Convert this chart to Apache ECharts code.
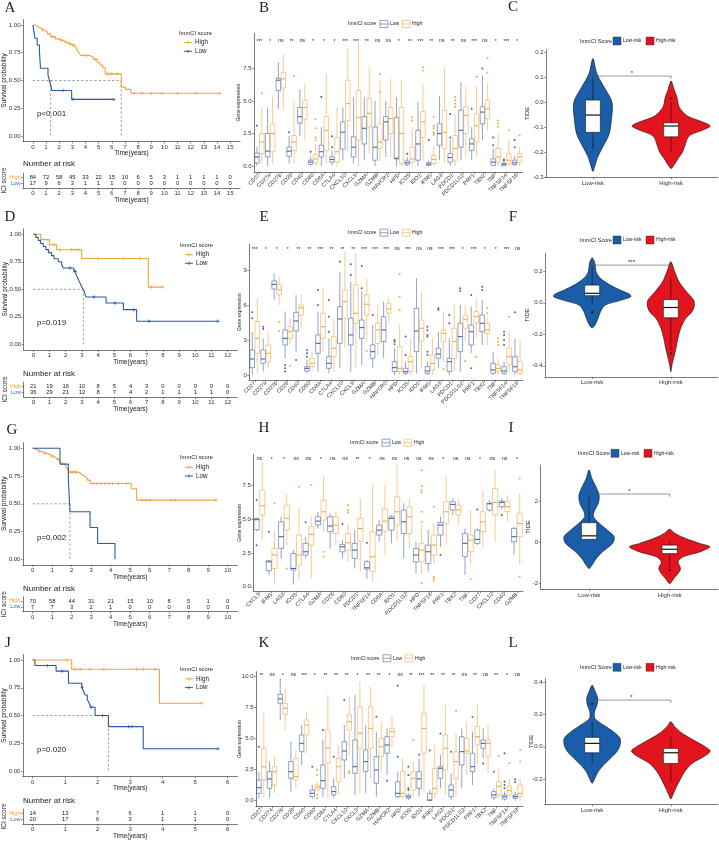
<!DOCTYPE html>
<html>
<head>
<meta charset="utf-8">
<script src="https://cdn.jsdelivr.net/npm/echarts@6.0.0/dist/echarts.min.js"></script>
<style>
html,body{margin:0;padding:0;background:#fff;}
#chart{width:719px;height:841px;}
</style>
</head>
<body>
<div id="chart"></div>
<script>
// ======================= DATA =======================
// ---------- Kaplan-Meier panels ----------
const SURV_TICKS = [0, 0.25, 0.5, 0.75, 1];

// Panel A
const A_time = [0,1,2,3,4,5,6,7,8,9,10,11,12,13,14,15];
const A_riskHigh = [84,72,58,45,33,22,15,10,6,5,3,1,1,1,1,0];
const A_riskLow  = [17,9,6,3,1,1,1,0,0,0,0,0,0,0,0,0];
const A_highT = [0,0.2,0.4,0.6,0.85,1.1,1.35,1.7,2.0,2.3,2.6,2.9,3.2,3.35,3.5,3.65,4.3,4.6,4.9,5.1,5.3,5.5,6.72,7.05,7.45,14.2];
const A_highS = [1.0,0.985,0.97,0.955,0.94,0.92,0.895,0.875,0.86,0.845,0.83,0.815,0.80,0.775,0.75,0.725,0.71,0.69,0.665,0.64,0.615,0.56,0.44,0.42,0.385,0.385];
const A_highCens = [0.75,1.5,2.2,2.5,2.8,3.1,3.9,4.1,4.75,5.7,6.0,6.4,7.7,8.3,9.0,9.8,11.0,12.4,14.2];
const A_lowT = [0,0.08,0.15,0.33,0.5,0.58,1.15,1.3,1.45,2.95,6.16];
const A_lowS = [1,0.94,0.88,0.82,0.76,0.61,0.55,0.48,0.41,0.33,0.33];
const A_lowCens = [2.3,3.05,6.16];
const A_median = [1.35, 6.72];
const A_p = 'p<0.001';

// Panel D
const D_time = [0,1,2,3,4,5,6,7,8,9,10,11,12];
const D_riskHigh = [21,19,16,10,8,5,4,3,0,0,0,0,0];
const D_riskLow  = [36,29,21,12,8,7,4,2,1,1,1,1,0];
const D_highT = [0,0.45,0.99,1.44,2.98,7.1,7.98];
const D_highS = [1,0.952,0.905,0.86,0.78,0.52,0.52];
const D_highCens = [1.28,1.65,2.37,2.57,2.78,4.0,5.56,6.58,7.3,7.98];
const D_lowT = [0,0.16,0.3,0.45,0.62,0.78,0.93,1.13,1.28,1.54,1.75,1.85,2.5,2.63,2.74,2.82,2.92,3.02,3.13,3.25,4.49,5.56,6.38,11.4];
const D_lowS = [1,0.972,0.944,0.917,0.889,0.861,0.833,0.806,0.778,0.75,0.722,0.694,0.665,0.635,0.605,0.575,0.545,0.515,0.485,0.43,0.375,0.315,0.21,0.21];
const D_lowCens = [2.26,2.57,3.74,5.04,6.2,7.14,11.4];
const D_median = [3.09];
const D_p = 'p=0.019';

// Panel G
const G_time = [0,1,2,3,4,5,6,7,8,9,10];
const G_riskHigh = [70,58,44,31,21,15,10,8,5,1,0];
const G_riskLow  = [7,7,3,2,1,0,0,0,0,0,0];
const G_highT = [0,0.1,0.25,0.45,0.7,0.9,1.05,1.2,1.35,1.45,1.55,1.65,1.75,1.85,2.35,2.5,2.65,2.8,2.95,5.05,5.33,9.4];
const G_highS = [1,0.986,0.971,0.957,0.943,0.929,0.914,0.9,0.886,0.871,0.855,0.838,0.82,0.785,0.768,0.75,0.732,0.713,0.683,0.635,0.533,0.533];
const G_highCens = [0.35,0.6,1.0,1.3,1.95,2.05,2.2,3.1,3.3,3.5,3.7,3.9,4.1,4.4,4.8,5.6,5.8,6.0,7.1,7.3,9.4];
const G_lowT = [0,1.4,1.83,1.91,2.94,3.33,4.22];
const G_lowS = [1,0.857,0.714,0.429,0.286,0.143,0];
const G_lowCens = [];
const G_median = [1.91];
const G_p = 'p=0.002';

// Panel J
const J_time = [0,1,2,3,4,5,6];
const J_riskHigh = [14,13,7,6,1,1,0];
const J_riskLow  = [20,17,6,3,1,1,0];
const J_highT = [0,1.2,3.9,5.2];
const J_highS = [1,0.917,0.611,0.611];
const J_highCens = [0.02,1.05,1.3,1.46,1.76,2.19,3.2,3.4,3.76,5.2];
const J_lowT = [0,0.07,0.72,1.1,1.51,1.56,1.61,1.68,1.74,1.78,1.92,2.33,3.4,5.7];
const J_lowS = [1,0.95,0.9,0.79,0.755,0.72,0.685,0.645,0.61,0.575,0.5,0.4,0.2,0.2];
const J_lowCens = [0.45,0.9,1.52,1.8,2.15,2.95,3.05,5.7];
const J_median = [2.33];
const J_p = 'p=0.020';

// ---------- Boxplot panels (values: [min, q1, median, q3, max]) ----------
const genes25 = ['CD27','CD274','CD276','CD28','CD40','CD80','CD8A','CTLA4','CXCL10','CXCL9','GZMA','GZMB','HAVCR2','HPD','ICOS','IDO1','IFNG','LAG3','PDCD1','PDCD1LG2','PRF1','TBX2','TNF','TNFSF14','TNFSF18'];
const genesH = ['CXCL9','IFNG','LAG3','ICOS','CTLA4','GZMA','CD28','CD80','PDCD1','TNFSF14','CD8A','IDO1','PDCD1LG2','HPD','TNFSF18','PRF1','TBX2','TNF','CD27','CXCL10','CD40','GZMB'];
const boxTicks25 = [0, 2.5, 5, 7.5];
const boxTicksE = [0, 3, 6, 9];
const boxTicksK = [0, 2.5, 5, 7.5, 10];

const B_sig = ['***','*','ns','**','ns','*','*','*','***','***','**','ns','ns','*','**','***','**','ns','**','ns','***','ns','*','***','*'];
const B_low = [[0,0.23,0.7,1.0,1.46],[0,0.7,1.15,2.5,4.5],[4.4,5.8,6.6,6.75,8.0],[0.2,0.75,1.15,1.45,2.3],[2.3,3.3,3.8,4.5,5.9],[0,0.13,0.3,0.45,0.7],[0,0.7,1.1,1.6,3.0],[0.05,0.3,0.5,0.7,1.2],[0.45,1.3,2.6,3.4,4.5],[0.2,0.7,1.45,2.25,5.3],[0.45,1.7,2.9,3.8,5.3],[0,0.45,1.45,3.0,5.0],[0.7,2.0,3.4,3.8,5.0],[0,0.55,0.6,3.75,5.3],[0,0.1,0.25,0.4,0.7],[0,0.45,1.7,2.75,4.9],[0,0.05,0.15,0.25,0.45],[0.45,1.6,2.5,3.25,5.4],[0,0.3,0.65,0.95,2.0],[0.45,1.45,2.75,4.3,6.45],[0.45,1.2,1.7,2.1,3.0],[2.0,3.25,4.15,4.55,6.95],[0,0.05,0.3,0.55,1.35],[0,0.02,0.15,0.2,0.3],[0,0.1,0.25,0.45,0.8]];
const B_high = [[0.2,0.95,1.85,2.5,4.5],[0.2,1.1,2.5,3.25,5.3],[4.3,6.0,6.7,7.2,8.6],[0.2,1.2,1.85,2.35,5.0],[2.0,3.6,4.5,5.05,6.3],[0,0.23,0.55,0.9,1.7],[0.2,1.2,2.75,3.8,7.1],[0,0.3,1.1,2.2,4.5],[1.1,3.5,4.8,6.6,9.0],[0,2.0,3.75,5.8,9.5],[0.95,3.0,4.05,5.2,7.6],[0.4,1.35,1.85,3.25,6.6],[0.7,2.5,3.65,4.5,6.7],[0,0.2,2.5,4.5,6.6],[0,0.3,0.55,1.45,3.0],[0.45,2.2,3.4,4.2,6.3],[0,0.2,0.5,0.8,1.45],[0.2,1.35,2.6,4.3,7.6],[0,0.45,1.35,2.35,4.0],[0.7,2.5,3.9,4.55,6.2],[0.7,1.85,3.1,4.0,6.1],[2.75,3.65,4.4,5.05,6.3],[0,0.3,0.7,1.35,2.5],[0,0.15,0.45,0.95,2.0],[0,0.3,0.7,0.95,1.45]];
const B_lowOut = [[0,3.1],[3,2.6],[5,1.1],[6,5.3],[7,2.3],[7,1.45],[14,0.95],[16,2.0],[18,4.0],[18,2.2],[20,4.4],[21,7.5],[22,2.2],[22,1.6],[23,0.5],[23,0.4],[24,2.0],[24,1.45]];
const B_highOut = [[0,5.6],[3,6.9],[5,3.6],[5,2.9],[5,2.2],[5,2.0],[11,7.05],[11,5.7],[14,3.75],[14,3.5],[15,7.6],[15,7.35],[16,3.8],[16,3.1],[16,2.9],[16,2.6],[16,2.5],[16,2.4],[18,5.3],[18,5.05],[18,4.8],[18,4.55],[20,6.85],[21,8.3],[21,7.2],[22,3.5],[22,3.25],[22,3.0],[23,2.75],[24,2.35]];

const E_sig = ['***','*','*','*','**','**','***','**','**','**','***','***','***','ns','***','ns','ns','***','***','*','***','*','*','***','ns'];
const E_low = [[0,0.63,1.37,2.14,3.7],[0.3,1.0,1.37,2.14,3.14],[6.43,7.37,7.77,8.05,8.7],[1.43,2.57,3.14,3.86,5.43],[2.0,3.77,4.63,5.37,6.86],[0.14,0.34,0.57,0.71,1.29],[0.29,1.86,2.71,3.43,5.43],[0.14,0.57,1.0,1.57,3.14],[0.57,2.71,4.8,5.86,8.86],[0.29,2.57,3.43,4.86,8.0],[0.86,3.14,4.06,4.71,7.14],[0.57,1.43,2.0,2.57,4.29],[1.43,2.86,3.86,5.0,6.29],[0,0.29,0.63,1.14,2.29],[0,0.14,0.29,0.57,1.14],[0.14,2.0,3.77,5.71,8.29],[0,0.14,0.34,0.71,1.14],[0.57,1.43,1.8,2.29,3.71],[0,0.29,1.14,1.43,3.14],[0.29,2.0,3.29,4.43,6.0],[1.86,2.57,3.71,4.29,5.86],[2.57,3.71,4.43,5.14,6.43],[0,0.14,0.43,1.0,2.0],[0,0.14,0.34,0.71,1.14],[0,0.29,0.71,1.57,3.14]];
const E_high = [[0.14,1.86,3.14,4.57,6.57],[0.57,1.14,1.86,2.57,3.7],[6.0,6.86,7.29,7.77,8.43],[2.57,3.14,3.71,4.14,4.86],[4.0,5.14,5.77,6.0,6.86],[0.29,0.71,1.0,1.43,2.0],[2.0,3.14,4.14,5.29,7.49],[0.29,1.57,2.29,3.29,4.86],[2.29,4.86,6.29,7.29,10.57],[0.57,4.43,5.29,7.71,10.43],[2.86,5.14,6.06,6.86,8.29],[1.71,2.71,3.86,4.43,6.0],[4.43,5.29,5.66,6.14,6.71],[0,0.29,0.57,2.43,4.29],[0,0.29,1.14,1.57,3.14],[0.57,2.9,4.0,4.7,7.14],[0,0.43,1.0,1.71,3.14],[1.14,2.86,3.57,3.86,5.43],[0.29,1.43,2.86,4.0,6.0],[2.86,4.0,4.77,5.14,6.0],[3.14,4.43,5.0,5.43,6.57],[2.57,3.57,3.86,4.43,5.0],[0,0.29,0.57,0.86,1.43],[0.14,0.86,1.57,2.29,3.71],[0,0.14,0.43,1.14,3.0]];
const E_lowOut = [[0,5.37],[0,4.86],[1,4.14],[1,3.94],[3,0.86],[3,0.57],[3,0.29],[4,1.29],[5,2.14],[5,1.86],[5,1.57],[6,7.29],[6,6.0],[7,6.43],[7,5.0],[7,3.71],[8,9.71],[9,9.49],[9,8.57],[10,9.34],[10,7.43],[11,5.14],[13,3.0],[13,2.86],[13,2.63],[14,3.29],[14,1.71],[16,4.14],[16,3.86],[16,3.43],[16,3.29],[16,2.0],[16,1.71],[17,5.71],[17,5.57],[18,5.14],[18,4.43],[19,7.43],[19,7.2],[20,6.86],[20,0.57],[21,7.57],[21,7.29],[23,3.71],[23,3.43],[23,3.0],[23,2.57],[24,5.37]];
const E_highOut = [[2,4.57],[2,3.77],[3,0.8],[10,2.06],[13,8.63],[13,6.71],[13,5.57],[17,0.51],[19,1.2],[20,1.57],[21,5.71],[21,5.29],[22,3.14],[22,2.86],[22,2.57],[23,5.0]];

const H_sig = ['ns','*','*','ns','ns','*','ns','ns','**','*','ns','ns','ns','ns','ns','*','ns','ns','*','ns','ns','*'];
const H_low = [[4.1,4.2,4.95,5.05,5.1],[0.86,1.18,1.84,1.92,1.95],[2.09,2.83,3.69,4.79,5.16],[0.17,1.23,1.35,2.46,2.7],[2.09,2.34,2.58,3.2,3.69],[4.3,4.55,4.84,5.16,5.53],[2.83,4.06,4.48,5.16,5.41],[2.09,2.58,2.95,3.12,3.44],[1.35,2.09,2.7,3.2,4.18],[0.61,1.3,1.4,1.84,1.97],[3.32,3.81,4.18,4.55,4.92],[3.2,4.18,5.04,5.16,5.29],[2.09,3.93,4.79,5.66,6.15],[0.98,1.84,2.34,2.83,3.32],[1.11,1.72,2.58,3.07,4.18],[2.95,3.81,4.55,4.75,5.16],[5.29,5.66,6.07,6.27,6.52],[0.86,2.21,3.2,3.93,4.3],[3.07,3.2,3.49,4.18,4.3],[5.53,5.66,6.12,6.15,6.39],[5.73,5.9,6.22,6.32,6.52],[2.34,3.32,3.69,4.3,4.43]];
const H_high = [[3.44,5.29,5.97,7.13,9.22],[0.25,1.35,2.34,2.83,4.18],[3.07,4.18,5.04,6.02,6.88],[0.61,1.6,2.34,3.81,5.78],[0.61,3.07,3.86,4.43,5.16],[4.06,4.92,5.53,6.39,8.11],[3.07,3.93,4.55,5.16,5.53],[1.84,2.7,3.25,3.93,4.67],[1.11,3.32,4.3,5.04,6.52],[0.37,1.11,2.21,4.06,7.5],[2.34,4.06,4.84,5.78,7.5],[3.32,4.55,5.53,6.64,9.1],[2.83,3.93,5.16,5.9,6.52],[0.98,1.84,2.7,3.2,4.55],[1.72,2.34,3.07,3.81,4.67],[3.2,4.67,5.53,6.27,8.11],[4.55,5.29,5.66,6.02,6.52],[1.6,2.58,3.44,3.81,5.66],[2.83,4.06,4.79,5.53,7.13],[3.32,5.29,6.22,7.25,8.6],[4.79,5.53,5.9,6.27,6.76],[1.6,3.69,4.67,5.41,6.88]];
const H_lowOut = [[0,6.4],[0,3.07],[1,4.06],[4,4.75],[7,4.62],[9,3.25],[15,2.34],[18,5.7],[20,5.29]];
const H_highOut = [[1,6.15],[2,1.35],[3,7.38],[4,7.5],[5,2.58],[5,2.21],[7,6.02],[7,5.66],[7,5.48],[13,8.6],[13,7.43],[13,7.13],[13,6.96],[13,5.53],[13,4.79],[13,0.25],[14,5.9],[14,0.74],[14,0.61],[14,0.44],[17,0.57],[21,7.99],[21,0.74]];

const K_sig = ['**','ns','*','ns','***','*','**','**','**','*','**','**','*','ns','**','***','**','**','**','ns','**','ns','**','*','ns'];
const K_low = [[0.19,0.59,1.05,1.67,2.34],[0.19,0.99,1.75,2.34,3.15],[6.5,7.85,8.2,8.58,9.87],[0.73,1.8,2.34,3.15,4.76],[2.88,3.95,4.62,5.3,6.1],[0.19,0.32,0.59,0.86,1.26],[0.32,0.99,1.61,2.88,4.89],[0.19,0.46,0.73,1.13,1.8],[1.8,3.28,4.0,4.76,6.1],[0.46,2.2,2.74,4.89,8.52],[0.59,2.34,3.15,4.09,6.1],[0.32,1.4,2.47,3.55,5.56],[2.07,3.82,4.49,5.16,5.83],[0.19,0.32,0.59,1.53,2.34],[0.05,0.19,0.32,0.46,0.59],[0.32,0.99,1.75,2.34,3.4],[0,0.02,0.05,0.59,0.86],[0.99,1.8,2.61,2.74,3.68],[0.05,0.32,0.86,1.26,2.2],[0.99,2.88,3.95,5.16,5.83],[1.26,2.34,2.74,3.82,5.56],[3.41,4.22,4.62,4.89,5.83],[0.05,0.24,0.46,0.73,0.99],[0,0.13,0.32,0.46,0.73],[0,0.19,0.32,0.46,0.73]];
const K_high = [[0.32,1.67,2.74,4.22,7.12],[0.59,1.26,2.34,2.74,3.55],[5.7,6.96,7.45,7.85,9.06],[0.99,1.67,1.94,3.41,4.09],[3.82,5.3,6.1,6.5,7.18],[0.73,0.86,1.08,1.26,1.53],[0.19,3.01,4.22,5.7,8.52],[0.46,1.53,2.74,3.41,4.49],[3.68,5.7,6.37,6.91,8.39],[0.59,4.22,5.43,7.58,9.6],[1.8,4.22,5.83,7.58,9.19],[2.34,3.55,4.35,5.03,6.37],[4.35,5.16,5.56,5.83,6.91],[0.19,0.32,0.59,2.34,3.41],[0.32,0.86,1.8,2.34,3.15],[0.73,3.82,5.83,7.04,9.33],[0.19,0.59,0.99,2.61,4.49],[0.46,2.47,4.22,5.3,7.72],[0.32,1.8,3.15,3.95,5.43],[2.07,3.82,4.0,5.03,6.37],[3.01,4.49,5.16,5.97,7.72],[2.2,3.55,4.62,4.89,6.1],[0.19,0.46,1.13,1.53,2.61],[0.19,0.46,0.81,1.13,1.8],[0,0.32,0.59,1.26,1.8]];
const K_lowOut = [[0,4.35],[5,2.74],[6,5.7],[7,3.55],[8,8.12],[11,6.77],[12,1.61],[13,9.26],[13,3.55],[14,2.74],[14,2.07],[14,0.99],[14,0.86],[15,3.7],[16,4.05],[17,5.4],[18,3.95],[20,6.74],[21,3.0],[22,2.34],[23,3.82],[23,1.53],[23,1.26],[23,0.99],[24,1.73],[24,1.5]];
const K_highOut = [[5,2.47],[5,2.07],[5,0.46],[5,0.19],[8,2.34],[8,2.2],[14,4.89],[18,7.24],[22,3.6],[23,3.01],[24,4.09],[24,3.15]];

// ---------- Violin panels (shape: [TIDE value, relative density]) ----------
const V_GROUPS = ['Low-risk', 'High-risk'];
const C_ticks = [-0.3,-0.2,-0.1,0,0.1,0.2];
const C_lowShape = [[0.175,0],[0.115,0.1],[0.06,0.29],[0.01,0.47],[-0.017,0.5],[-0.06,0.48],[-0.125,0.42],[-0.18,0.25],[-0.22,0.12],[-0.26,0.04],[-0.277,0]];
const C_highShape = [[0.085,0],[0.05,0.08],[0.02,0.15],[-0.02,0.21],[-0.055,0.42],[-0.08,0.83],[-0.095,1.0],[-0.11,0.83],[-0.135,0.46],[-0.175,0.35],[-0.2,0.29],[-0.225,0.18],[-0.25,0.08],[-0.265,0]];
const C_lowBox = [-0.187,-0.12,-0.051,0.009,0.102];
const C_highBox = [-0.198,-0.138,-0.095,-0.082,0.0];
const C_lowOut = [];
const C_highOut = [0.016];
const C_sig = '*';
const C_sigY = 0.105;

const F_ticks = [-0.4,-0.2,0,0.2];
const F_lowShape = [[0.286,0],[0.25,0.07],[0.197,0.1],[0.155,0.21],[0.112,0.46],[0.081,0.71],[0.053,0.96],[0.038,0.98],[0.017,0.75],[-0.015,0.33],[-0.057,0.21],[-0.099,0.15],[-0.142,0.07],[-0.159,0]];
const F_highShape = [[0.26,0],[0.197,0.1],[0.133,0.21],[0.07,0.4],[0.017,0.58],[-0.015,0.6],[-0.057,0.54],[-0.099,0.38],[-0.163,0.25],[-0.226,0.18],[-0.29,0.13],[-0.353,0.07],[-0.395,0.03],[-0.438,0]];
const F_lowBox = [-0.01,0.045,0.06,0.112,0.23];
const F_highBox = [-0.3,-0.095,-0.03,0.02,0.155];
const F_lowOut = [-0.06];
const F_highOut = [-0.32];
const F_sig = '***';
const F_sigY = 0.239;

const I_ticks = [-2,0,2];
const I_lowShape = [[3.51,0],[3.1,0.07],[2.7,0.17],[2.29,0.25],[1.89,0.23],[1.48,0.125],[1.24,0.11],[1.0,0.21],[0.58,0.46],[0.26,0.625],[-0.06,0.58],[-0.47,0.33],[-0.79,0.18],[-1.12,0.07],[-1.28,0]];
const I_highShape = [[0.63,0],[0.44,0.125],[0.2,0.375],[-0.06,0.75],[-0.22,1.0],[-0.47,0.75],[-0.71,0.33],[-0.95,0.21],[-1.28,0.27],[-1.52,0.21],[-1.77,0.1],[-2.01,0]];
const I_lowBox = [0.1,0.14,0.31,0.95,2.34];
const I_highBox = [-1.2,-0.55,-0.34,-0.14,0.02];
const I_lowOut = [];
const I_highOut = [-1.36];
const I_sig = '*';
const I_sigY = 2.34;

const L_ticks = [-0.2,0,0.2,0.4];
const L_lowShape = [[0.38,0],[0.34,0.08],[0.3,0.14],[0.26,0.125],[0.216,0.06],[0.175,0.07],[0.134,0.29],[0.093,0.54],[0.052,0.71],[0.01,0.71],[-0.031,0.625],[-0.072,0.46],[-0.113,0.29],[-0.154,0.15],[-0.195,0.07],[-0.226,0]];
const L_highShape = [[0.155,0],[0.124,0.1],[0.083,0.29],[0.041,0.58],[0.0,0.875],[-0.027,1.0],[-0.062,0.83],[-0.103,0.54],[-0.154,0.35],[-0.206,0.23],[-0.257,0.125],[-0.298,0.05],[-0.323,0]];
const L_lowBox = [-0.103,-0.037,0.021,0.058,0.155];
const L_highBox = [-0.216,-0.103,-0.037,-0.01,0.062];
const L_lowOut = [0.265];
const L_highOut = [];
const L_sig = '*';
const L_sigY = 0.288;

// ======================= STYLE / LAYOUT =======================
const FF = '"Liberation Sans", Arial, Helvetica, sans-serif';
const SERIF = '"Liberation Serif", "Times New Roman", serif';
const COL = {kmHigh:'#F2A33A', kmLow:'#2B5A9E', riskHigh:'#F2A33A', riskLow:'#3F6DB5',
             boxLow:'#4466AE', boxHigh:'#F4A847', vLow:'#1A5DA9', vHigh:'#E2141E'};
const BOX_OFF = 0.23, BOX_W = 0.42;
const RISK_ROW = {high: 2, low: 1};

const KM_LAYOUT = {
  A:{left:23, top:19.45, width:217, height:122.1, xmin:-0.75, xmax:15.75, riskTop:173, letter:[10,8,'A'], numY:164, pY:114, legY:33, legX:179},
  D:{left:23.6, top:228.8, width:213.8, height:121, xmin:-0.6, xmax:12.6, riskTop:382, letter:[10,217,'D'], numY:374, pY:323, legY:245, legX:180},
  G:{left:22.95, top:442.75, width:214.5, height:122.1, xmin:-0.5, xmax:10.5, riskTop:596.7, letter:[12,430,'G'], numY:589, pY:537.7, legY:457.7, legX:180},
  J:{left:22.95, top:654.45, width:214.5, height:122.1, xmin:-0.3, xmax:6.3, riskTop:809, letter:[8,643,'J'], numY:801, pY:750, legY:669.3, legX:180}
};
const BOX_LAYOUT = {
  B:{left:254, top:33.4, width:268.5, height:138.5, ymin:-0.45, ymax:10.2, dec:1, sigY:9.67, nameGap:12.5, letter:[264,8,'B'], legX:348, legY:24},
  E:{left:249.3, top:244.3, width:273.7, height:135.7, ymin:-0.43, ymax:11.2, dec:0, sigY:10.85, nameGap:7.5, letter:[264,217,'E'], legX:348, legY:232.7},
  H:{left:253.3, top:454.4, width:269.7, height:136.7, ymin:-0.32, ymax:9.76, dec:1, sigY:9.47, nameGap:11.5, letter:[264,428,'H'], legX:350, legY:442.7},
  K:{left:256, top:671.7, width:267, height:134.9, ymin:-0.48, ymax:10.4, dec:1, sigY:10.13, nameGap:14, letter:[264,643,'K'], legX:351, legY:658.3}
};
const V_LAYOUT = {
  C:{left:546, top:49.8, width:172, height:127.5, ymin:-0.3, ymax:0.21, dec:1, nameGap:16, letter:[513,7,'C'], legX:580, legY:41},
  F:{left:545, top:253.3, width:173, height:123.5, ymin:-0.47, ymax:0.314, dec:1, nameGap:15, letter:[513,217,'F'], legX:580, legY:240},
  I:{left:540.7, top:465, width:177.3, height:124, ymin:-2.27, ymax:3.75, dec:0, nameGap:9.5, letter:[511,428,'I'], legX:578, legY:453.3},
  L:{left:545, top:678.7, width:173, height:125.6, ymin:-0.355, ymax:0.42, dec:1, nameGap:10.5, letter:[513,643,'L'], legX:580, legY:667.3}
};

// ======================= BUILDERS =======================
const option = {animation:false, backgroundColor:'#fff', textStyle:{fontFamily:FF},
  grid:[], xAxis:[], yAxis:[], series:[], graphic:{elements:[]}};

function addGrid(L) {
  option.grid.push({left:L.left, top:L.top, width:L.width, height:L.height, containLabel:false, outerBoundsMode:'none'});
  return option.grid.length - 1;
}
function nameStyle(fs) { return {fontSize:fs, color:'#222', fontFamily:FF}; }
function mkAxis(o) {
  const ax = {
    type:'value', gridIndex:o.gi, min:o.min, max:o.max,
    axisLine:{show:true, onZero:false, lineStyle:{color:'#222', width:0.6}},
    axisTick:{show:true, length:2, inside:false, lineStyle:{color:'#333', width:0.5}, customValues:o.ticks},
    axisLabel:{show:true, customValues:o.ticks, formatter:o.fmt, fontSize:o.fs || 6, color:'#333', margin:(o.margin != null ? o.margin : 2.5), fontFamily:FF},
    splitLine:{show:false}, splitArea:{show:false}
  };
  if (o.name) {
    ax.name = o.name; ax.nameLocation = 'middle'; ax.nameGap = o.nameGap;
    ax.nameTextStyle = nameStyle(o.nameFs || 6); ax.nameMoveOverlap = false;
  }
  return ax;
}
function gText(x, y, text, o) {
  o = o || {};
  option.graphic.elements.push({type:'text', x:x, y:y, rotation:o.rot || 0, silent:true, z:100,
    style:{text:text, fill:o.color || '#222', fontSize:o.fs || 6, fontFamily:o.ff || FF,
           align:o.align || 'left', verticalAlign:o.va || 'middle'}});
}
function gLine(x1, y1, x2, y2, c, w) {
  option.graphic.elements.push({type:'line', silent:true, z:100, shape:{x1:x1, y1:y1, x2:x2, y2:y2}, style:{stroke:c, lineWidth:w}});
}
function gRect(x, y, w, h, fill, stroke, lw) {
  option.graphic.elements.push({type:'rect', silent:true, z:100, shape:{x:x, y:y, width:w, height:h}, style:{fill:fill, stroke:stroke, lineWidth:lw}});
}
function survAt(T, S, t) { let s = S[0]; for (let i = 0; i < T.length; i++) { if (T[i] <= t) s = S[i]; } return s; }
function plusRender(c) {
  return function (p, api) {
    const pt = api.coord([api.value(0), api.value(1)]);
    const r = 1.8;
    return {type:'group', children:[
      {type:'line', shape:{x1:pt[0]-r, y1:pt[1], x2:pt[0]+r, y2:pt[1]}, style:{stroke:c, lineWidth:0.7}},
      {type:'line', shape:{x1:pt[0], y1:pt[1]-r, x2:pt[0], y2:pt[1]+r}, style:{stroke:c, lineWidth:0.7}}
    ]};
  };
}

function buildKM(L, D) {
  const gi = addGrid(L);
  option.xAxis.push(mkAxis({gi:gi, min:L.xmin, max:L.xmax, ticks:D.time, fmt:v => String(Math.round(v)),
    name:'Time(years)', nameGap:8.5, nameFs:6.5}));
  option.yAxis.push(mkAxis({gi:gi, min:-0.05, max:1.05, ticks:SURV_TICKS, fmt:v => v.toFixed(2),
    name:'Survival probability', nameGap:15, nameFs:6.5}));
  // median reference lines
  const mMax = Math.max.apply(null, D.median);
  const dash = {color:'#555', width:0.6, type:[2.2, 2.2]};
  option.series.push({type:'line', xAxisIndex:gi, yAxisIndex:gi, data:[[0,0.5],[mMax,0.5]], symbol:'none', showSymbol:false, lineStyle:dash, silent:true, z:2});
  D.median.forEach(m => option.series.push({type:'line', xAxisIndex:gi, yAxisIndex:gi, data:[[m,0.5],[m,0]], symbol:'none', showSymbol:false, lineStyle:dash, silent:true, z:2}));
  // curves + censor marks
  [['high', COL.kmHigh], ['low', COL.kmLow]].forEach(function (pair) {
    const k = pair[0], c = pair[1];
    const T = D[k + 'T'], S = D[k + 'S'];
    option.series.push({type:'line', xAxisIndex:gi, yAxisIndex:gi, step:'end', symbol:'none', showSymbol:false,
      data:T.map((t, i) => [t, S[i]]), lineStyle:{color:c, width:1.1}, silent:true, z:3});
    option.series.push({type:'custom', xAxisIndex:gi, yAxisIndex:gi, silent:true, z:4,
      data:D[k + 'Cens'].map(t => [t, survAt(T, S, t)]), encode:{x:0, y:1}, renderItem:plusRender(c)});
  });
  // risk table
  const gr = addGrid({left:L.left, top:L.riskTop, width:L.width, height:15});
  option.xAxis.push(mkAxis({gi:gr, min:L.xmin, max:L.xmax, ticks:D.time, fmt:v => String(Math.round(v)),
    name:'Time(years)', nameGap:9, nameFs:6.5}));
  const ya = mkAxis({gi:gr, min:0.2, max:2.7, ticks:[RISK_ROW.low, RISK_ROW.high],
    fmt:v => (v === RISK_ROW.high ? '{h|High}' : '{l|Low}'), name:'ICI score', nameGap:15, nameFs:6.5});
  ya.axisLabel.rich = {h:{color:COL.riskHigh, fontSize:5.5, fontFamily:FF}, l:{color:COL.riskLow, fontSize:5.5, fontFamily:FF}};
  option.yAxis.push(ya);
  const riskData = D.time.map((t, i) => [t, RISK_ROW.high, D.riskHigh[i]]).concat(D.time.map((t, i) => [t, RISK_ROW.low, D.riskLow[i]]));
  option.series.push({type:'custom', xAxisIndex:gr, yAxisIndex:gr, silent:true, data:riskData, encode:{x:0, y:1},
    renderItem:function (p, api) {
      const c = api.coord([api.value(0), api.value(1)]);
      return {type:'text', x:c[0], y:c[1], style:{text:String(api.value(2)), fill:'#222', fontSize:5.8, fontFamily:FF, align:'center', verticalAlign:'middle'}};
    }});
  // texts
  gText(L.letter[0], L.letter[1], L.letter[2], {fs:15, ff:SERIF, align:'center'});
  gText(23, L.numY, 'Number at risk', {fs:8});
  gText(37, L.pY, D.p, {fs:8});
  // legend
  const x = L.legX, y = L.legY;
  gText(x, y, 'ImmCI score', {fs:5.8});
  [[COL.kmHigh, 'High', 9.6], [COL.kmLow, 'Low', 18.3]].forEach(function (it) {
    gLine(x + 5, y + it[2], x + 13, y + it[2], it[0], 1);
    gLine(x + 9, y + it[2] - 1.8, x + 9, y + it[2] + 1.8, it[0], 0.8);
    gText(x + 16, y + it[2], it[1], {fs:6.3});
  });
}

function boxRender(side, color) {
  return function (p, api) {
    const i = api.value(0);
    const band = api.size([1, 0])[0];
    const x = api.coord([i, 0])[0] + side * band * BOX_OFF;
    const w = band * BOX_W;
    const Y = k => api.coord([i, api.value(k)])[1];
    const y0 = Y(1), y1 = Y(2), y2 = Y(3), y3 = Y(4), y4 = Y(5);
    return {type:'group', children:[
      {type:'line', shape:{x1:x, y1:y4, x2:x, y2:y3}, style:{stroke:color, lineWidth:0.6}},
      {type:'line', shape:{x1:x, y1:y1, x2:x, y2:y0}, style:{stroke:color, lineWidth:0.6}},
      {type:'rect', shape:{x:x - w / 2, y:y3, width:w, height:Math.max(y1 - y3, 0.5)}, style:{stroke:color, lineWidth:0.6, fill:'rgba(255,255,255,0)'}},
      {type:'line', shape:{x1:x - w / 2, y1:y2, x2:x + w / 2, y2:y2}, style:{stroke:color, lineWidth:1.1}}
    ]};
  };
}
function dotRender(side, color, r) {
  return function (p, api) {
    const band = api.size([1, 0])[0];
    const c = api.coord([api.value(0), api.value(1)]);
    return {type:'circle', shape:{cx:c[0] + side * band * BOX_OFF, cy:c[1], r:r}, style:{fill:color}};
  };
}

function buildBox(L, D) {
  const gi = addGrid(L);
  option.xAxis.push({type:'category', gridIndex:gi, data:D.genes, boundaryGap:true,
    axisLine:{show:true, onZero:false, lineStyle:{color:'#222', width:0.6}},
    axisTick:{show:true, length:2, alignWithLabel:true, interval:0, lineStyle:{color:'#333', width:0.5}},
    axisLabel:{interval:0, rotate:45, fontSize:5.5, color:'#333', margin:2.5, fontFamily:FF},
    splitLine:{show:false}});
  option.yAxis.push(mkAxis({gi:gi, min:L.ymin, max:L.ymax, ticks:D.ticks, fmt:v => v.toFixed(L.dec),
    name:'Gene expression', nameGap:L.nameGap, nameFs:5}));
  option.series.push({type:'custom', xAxisIndex:gi, yAxisIndex:gi, silent:true, z:3,
    data:D.low.map((d, i) => [i].concat(d)), encode:{x:0, y:[1,2,3,4,5]}, renderItem:boxRender(-1, COL.boxLow)});
  option.series.push({type:'custom', xAxisIndex:gi, yAxisIndex:gi, silent:true, z:3,
    data:D.high.map((d, i) => [i].concat(d)), encode:{x:0, y:[1,2,3,4,5]}, renderItem:boxRender(1, COL.boxHigh)});
  option.series.push({type:'custom', xAxisIndex:gi, yAxisIndex:gi, silent:true, z:4,
    data:D.lowOut, encode:{x:0, y:1}, renderItem:dotRender(-1, COL.boxLow, 1.0)});
  option.series.push({type:'custom', xAxisIndex:gi, yAxisIndex:gi, silent:true, z:4,
    data:D.highOut, encode:{x:0, y:1}, renderItem:dotRender(1, COL.boxHigh, 1.0)});
  option.series.push({type:'custom', xAxisIndex:gi, yAxisIndex:gi, silent:true, z:5,
    data:D.sig.map((s, i) => [i, L.sigY]), encode:{x:0, y:1},
    renderItem:function (p, api) {
      const c = api.coord([api.value(0), api.value(1)]);
      const s = D.sig[p.dataIndex];
      return {type:'text', x:c[0], y:c[1] + (s === 'ns' ? 0 : 1), style:{text:s, fill:'#222', fontSize:5, fontFamily:FF, align:'center', verticalAlign:'middle'}};
    }});
  gText(L.letter[0], L.letter[1], L.letter[2], {fs:15, ff:SERIF, align:'center'});
  const x = L.legX, y = L.legY;
  gText(x, y, 'ImmCI score', {fs:5});
  [[COL.boxLow, 'Low', 32], [COL.boxHigh, 'High', 54]].forEach(function (it) {
    gRect(x + it[2], y - 3.5, 8, 7, 'rgba(255,255,255,0)', it[0], 0.6);
    gLine(x + it[2], y, x + it[2] + 8, y, it[0], 0.6);
    gText(x + it[2] + 10, y, it[1], {fs:5});
  });
}

function buildViolin(L, D) {
  const gi = addGrid(L);
  option.xAxis.push(mkAxis({gi:gi, min:0.4, max:2.6, ticks:[1, 2], fmt:v => V_GROUPS[Math.round(v) - 1], fs:6, margin:3}));
  option.yAxis.push(mkAxis({gi:gi, min:L.ymin, max:L.ymax, ticks:D.ticks, fmt:v => v.toFixed(L.dec), fs:6,
    name:'TIDE', nameGap:L.nameGap, nameFs:6}));
  const shapes = [D.lowShape, D.highShape];
  const cols = [COL.vLow, COL.vHigh];
  option.series.push({type:'custom', xAxisIndex:gi, yAxisIndex:gi, silent:true, z:2,
    data:[[1, 0], [2, 0]], encode:{x:0, y:1},
    renderItem:function (p, api) {
      const xv = api.value(0);
      const shp = shapes[p.dataIndex];
      const unit = api.size([1, 0])[0];
      const cx = api.coord([xv, 0])[0];
      const right = [], left = [];
      shp.forEach(function (pt) {
        const py = api.coord([xv, pt[0]])[1];
        right.push([cx + pt[1] * 0.5 * unit, py]);
        left.push([cx - pt[1] * 0.5 * unit, py]);
      });
      const leftRev = left.slice(1, left.length - 1).reverse();
      const pts = right.concat(leftRev);
      return {type:'polygon', shape:{points:pts, smooth:0.3}, style:{fill:cols[p.dataIndex], stroke:'#111', lineWidth:0.6}};
    }});
  option.series.push({type:'custom', xAxisIndex:gi, yAxisIndex:gi, silent:true, z:3,
    data:[[1].concat(D.lowBox), [2].concat(D.highBox)], encode:{x:0, y:[1,2,3,4,5]},
    renderItem:function (p, api) {
      const xv = api.value(0);
      const unit = api.size([1, 0])[0];
      const cx = api.coord([xv, 0])[0];
      const w = 0.19 * unit;
      const Y = k => api.coord([xv, api.value(k)])[1];
      const y0 = Y(1), y1 = Y(2), y2 = Y(3), y3 = Y(4), y4 = Y(5);
      return {type:'group', children:[
        {type:'line', shape:{x1:cx, y1:y4, x2:cx, y2:y3}, style:{stroke:'#111', lineWidth:0.6}},
        {type:'line', shape:{x1:cx, y1:y1, x2:cx, y2:y0}, style:{stroke:'#111', lineWidth:0.6}},
        {type:'rect', shape:{x:cx - w / 2, y:y3, width:w, height:y1 - y3}, style:{fill:'#fff', stroke:'#111', lineWidth:0.6}},
        {type:'line', shape:{x1:cx - w / 2, y1:y2, x2:cx + w / 2, y2:y2}, style:{stroke:'#111', lineWidth:1.2}}
      ]};
    }});
  option.series.push({type:'custom', xAxisIndex:gi, yAxisIndex:gi, silent:true, z:4,
    data:D.lowOut.map(v => [1, v]).concat(D.highOut.map(v => [2, v])), encode:{x:0, y:1},
    renderItem:function (p, api) {
      const c = api.coord([api.value(0), api.value(1)]);
      return {type:'circle', shape:{cx:c[0], cy:c[1], r:1.1}, style:{fill:'#111'}};
    }});
  const tip = (L.ymax - L.ymin) * 0.022;
  option.series.push({type:'line', xAxisIndex:gi, yAxisIndex:gi, silent:true, z:5, symbol:'none', showSymbol:false,
    data:[[1, D.sigY - tip], [1, D.sigY], [2, D.sigY], [2, D.sigY - tip]], lineStyle:{color:'#555', width:0.6}});
  option.series.push({type:'custom', xAxisIndex:gi, yAxisIndex:gi, silent:true, z:5,
    data:[[1.5, D.sigY]], encode:{x:0, y:1},
    renderItem:function (p, api) {
      const c = api.coord([api.value(0), api.value(1)]);
      return {type:'text', x:c[0], y:c[1] - 2.5, style:{text:D.sig, fill:'#222', fontSize:6, fontFamily:FF, align:'center', verticalAlign:'middle'}};
    }});
  gText(L.letter[0], L.letter[1], L.letter[2], {fs:15, ff:SERIF, align:'center'});
  const x = L.legX, y = L.legY;
  gText(x, y, 'ImmCI Score', {fs:5.5});
  [[COL.vLow, 'Low-risk', 33], [COL.vHigh, 'High-risk', 66]].forEach(function (it) {
    gRect(x + it[2], y - 4, 8, 8, it[0], '#222', 0.4);
    gText(x + it[2] + 10, y, it[1], {fs:5});
  });
}

// ======================= ASSEMBLE =======================
buildKM(KM_LAYOUT.A, {time:A_time, riskHigh:A_riskHigh, riskLow:A_riskLow, highT:A_highT, highS:A_highS, highCens:A_highCens, lowT:A_lowT, lowS:A_lowS, lowCens:A_lowCens, median:A_median, p:A_p});
buildKM(KM_LAYOUT.D, {time:D_time, riskHigh:D_riskHigh, riskLow:D_riskLow, highT:D_highT, highS:D_highS, highCens:D_highCens, lowT:D_lowT, lowS:D_lowS, lowCens:D_lowCens, median:D_median, p:D_p});
buildKM(KM_LAYOUT.G, {time:G_time, riskHigh:G_riskHigh, riskLow:G_riskLow, highT:G_highT, highS:G_highS, highCens:G_highCens, lowT:G_lowT, lowS:G_lowS, lowCens:G_lowCens, median:G_median, p:G_p});
buildKM(KM_LAYOUT.J, {time:J_time, riskHigh:J_riskHigh, riskLow:J_riskLow, highT:J_highT, highS:J_highS, highCens:J_highCens, lowT:J_lowT, lowS:J_lowS, lowCens:J_lowCens, median:J_median, p:J_p});

buildBox(BOX_LAYOUT.B, {genes:genes25, ticks:boxTicks25, sig:B_sig, low:B_low, high:B_high, lowOut:B_lowOut, highOut:B_highOut});
buildBox(BOX_LAYOUT.E, {genes:genes25, ticks:boxTicksE, sig:E_sig, low:E_low, high:E_high, lowOut:E_lowOut, highOut:E_highOut});
buildBox(BOX_LAYOUT.H, {genes:genesH, ticks:boxTicks25, sig:H_sig, low:H_low, high:H_high, lowOut:H_lowOut, highOut:H_highOut});
buildBox(BOX_LAYOUT.K, {genes:genes25, ticks:boxTicksK, sig:K_sig, low:K_low, high:K_high, lowOut:K_lowOut, highOut:K_highOut});

buildViolin(V_LAYOUT.C, {ticks:C_ticks, lowShape:C_lowShape, highShape:C_highShape, lowBox:C_lowBox, highBox:C_highBox, lowOut:C_lowOut, highOut:C_highOut, sig:C_sig, sigY:C_sigY});
buildViolin(V_LAYOUT.F, {ticks:F_ticks, lowShape:F_lowShape, highShape:F_highShape, lowBox:F_lowBox, highBox:F_highBox, lowOut:F_lowOut, highOut:F_highOut, sig:F_sig, sigY:F_sigY});
buildViolin(V_LAYOUT.I, {ticks:I_ticks, lowShape:I_lowShape, highShape:I_highShape, lowBox:I_lowBox, highBox:I_highBox, lowOut:I_lowOut, highOut:I_highOut, sig:I_sig, sigY:I_sigY});
buildViolin(V_LAYOUT.L, {ticks:L_ticks, lowShape:L_lowShape, highShape:L_highShape, lowBox:L_lowBox, highBox:L_highBox, lowOut:L_lowOut, highOut:L_highOut, sig:L_sig, sigY:L_sigY});

const chart = echarts.init(document.getElementById('chart'), null, {renderer:'canvas', width:719, height:841});
chart.setOption(option);
</script>
</body>
</html>
